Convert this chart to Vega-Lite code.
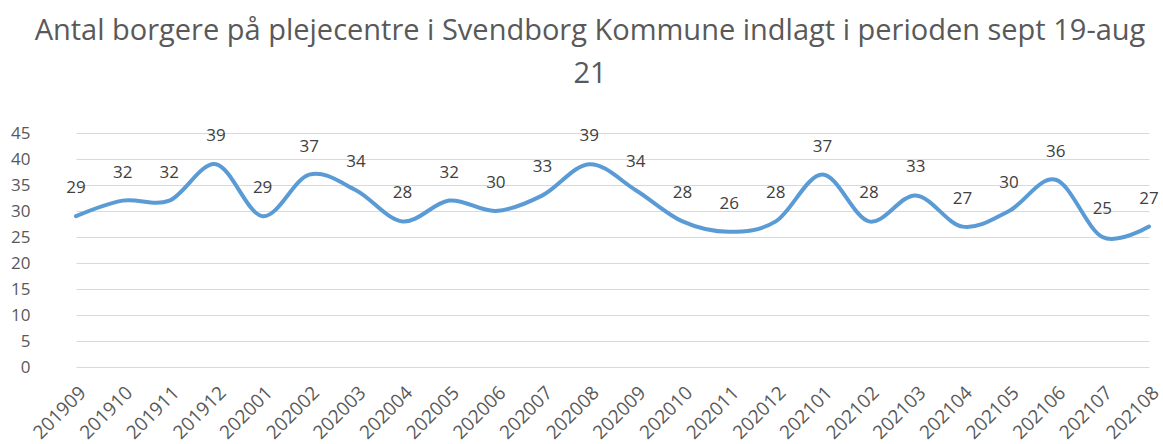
{
  "$schema": "https://vega.github.io/schema/vega-lite/v6.json",
  "width": 1110,
  "height": 234,
  "padding": {"left": 50, "top": 133, "right": 3, "bottom": 77},
  "autosize": {"type": "none"},
  "background": "white",
  "title": {
    "text": ["Antal borgere på plejecentre i Svendborg Kommune indlagt i perioden sept 19-aug", "21"],
    "fontSize": 29,
    "font": "Open Sans",
    "fontWeight": "normal",
    "color": "#595959",
    "anchor": "middle",
    "lineHeight": 43,
    "offset": 35,
    "dx": -15
  },
  "data": {
    "values": [
      {"month": "201909", "count": 29},
      {"month": "201910", "count": 32},
      {"month": "201911", "count": 32},
      {"month": "201912", "count": 39},
      {"month": "202001", "count": 29},
      {"month": "202002", "count": 37},
      {"month": "202003", "count": 34},
      {"month": "202004", "count": 28},
      {"month": "202005", "count": 32},
      {"month": "202006", "count": 30},
      {"month": "202007", "count": 33},
      {"month": "202008", "count": 39},
      {"month": "202009", "count": 34},
      {"month": "202010", "count": 28},
      {"month": "202011", "count": 26},
      {"month": "202012", "count": 28},
      {"month": "202101", "count": 37},
      {"month": "202102", "count": 28},
      {"month": "202103", "count": 33},
      {"month": "202104", "count": 27},
      {"month": "202105", "count": 30},
      {"month": "202106", "count": 36},
      {"month": "202107", "count": 25},
      {"month": "202108", "count": 27}
    ]
  },
  "config": {
    "view": {"stroke": null}
  },
  "encoding": {
    "x": {
      "field": "month",
      "type": "ordinal",
      "scale": {"type": "point", "padding": 0, "range": [26, 1099]},
      "axis": {
        "title": null,
        "labelAngle": -45,
        "labelFontSize": 19,
        "labelFont": "Open Sans",
        "labelColor": "#595959",
        "ticks": false,
        "domain": false,
        "grid": false,
        "labelPadding": 16
      }
    },
    "y": {
      "field": "count",
      "type": "quantitative",
      "scale": {"domain": [0, 45], "nice": false},
      "axis": {
        "title": null,
        "values": [0, 5, 10, 15, 20, 25, 30, 35, 40, 45],
        "labelFontSize": 17,
        "labelFont": "Open Sans",
        "labelColor": "#595959",
        "ticks": false,
        "domain": false,
        "gridColor": "#D9D9D9",
        "gridWidth": 1.2,
        "labelPadding": 20
      }
    }
  },
  "layer": [
    {
      "mark": {"type": "line", "interpolate": "cardinal", "color": "#5B9BD5", "strokeWidth": 4, "strokeCap": "round"}
    },
    {
      "mark": {"type": "text", "dy": -28, "fontSize": 17, "font": "Open Sans", "color": "#404040"},
      "encoding": {"text": {"field": "count", "type": "quantitative"}}
    }
  ]
}
